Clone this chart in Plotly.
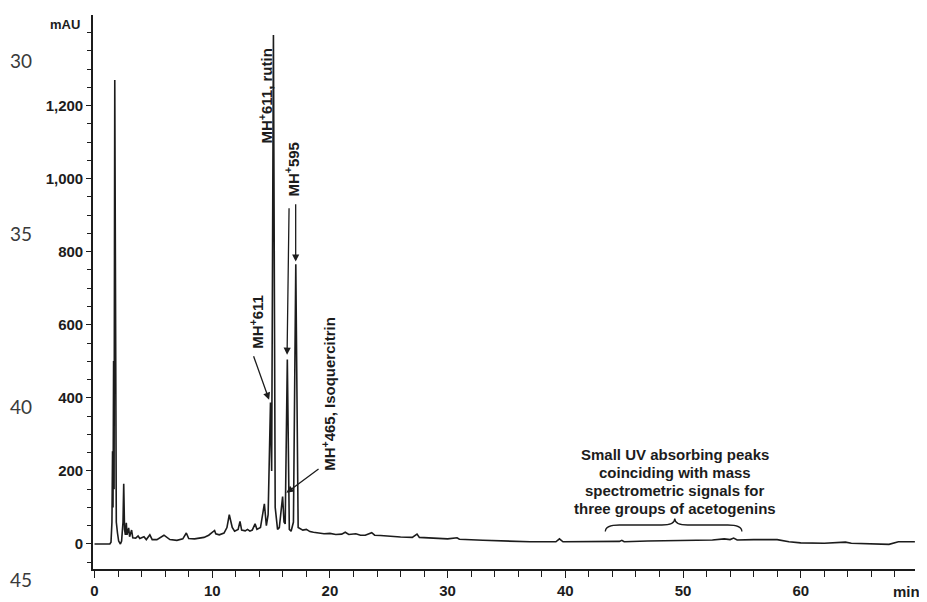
import plotly.graph_objects as go

# ---- data: chromatogram (retention time in min, absorbance in mAU) ----
time_min = [0.0, 1.30, 1.40, 1.48, 1.53, 1.57, 1.62, 1.66, 1.72, 1.78, 1.85, 1.95, 2.05, 2.20,
            2.30, 2.42, 2.48, 2.55, 2.62, 2.70, 2.76, 2.90, 2.98, 3.15, 3.25, 3.50, 3.70, 3.85,
            4.20, 4.40, 4.70, 4.90, 5.30, 5.90, 6.40, 7.00, 7.50, 7.80, 8.00, 8.50, 9.30, 9.70,
            10.0, 10.2, 10.3, 10.6, 11.0, 11.25, 11.45, 11.7, 11.9, 12.2, 12.36, 12.5, 12.8,
            13.0, 13.2, 13.4, 13.64, 13.8, 14.1, 14.43, 14.6, 14.75, 14.95, 15.05, 15.2, 15.35,
            15.55, 15.7, 15.98, 16.1, 16.2, 16.38, 16.55, 16.7, 16.9, 17.1, 17.3, 17.5, 17.7,
            18.0, 18.3, 18.6, 19.0, 19.5, 20.0, 20.5, 21.0, 21.3, 21.6, 22.2, 22.6, 23.0, 23.55,
            23.8, 24.3, 25.0, 26.0, 27.0, 27.4, 27.6, 28.5, 30.0, 30.8, 31.0, 33.0, 35.0, 37.0,
            39.2, 39.5, 39.8, 42.0, 44.6, 44.8, 45.0, 47.0, 50.0, 52.5, 53.5, 54.0, 54.3, 54.6,
            56.0, 58.0, 59.0, 60.0, 62.0, 63.8, 64.3, 66.0, 67.5, 68.3, 69.7]
absorbance_mAU = [0, 0, 5, 60, 254, 100, 501, 150, 1270, 200, 60, 30, 8, 0,
                  8, 60, 165, 40, 25, 58, 25, 44, 20, 38, 17, 16, 22, 15,
                  20, 12, 25, 12, 12, 24, 12, 10, 14, 30, 15, 14, 18, 24,
                  32, 37, 28, 25, 30, 45, 80, 45, 35, 40, 62, 38, 36,
                  40, 35, 38, 55, 40, 45, 110, 50, 80, 387, 200, 1393, 100,
                  40, 45, 130, 60, 55, 505, 40, 35, 60, 766, 45, 42, 38,
                  40, 34, 32, 30, 28, 29, 26, 27, 32, 26, 28, 24, 24, 31,
                  24, 23, 21, 19, 18, 27, 18, 16, 14, 17, 13, 10, 7, 6,
                  6, 14, 6, 6, 7, 10, 6, 8, 9, 11, 14, 12, 16, 11,
                  12, 12, 6, 3, 2, 5, 2, 0, -1, 6, 6]

y_tick_values = [0, 200, 400, 600, 800, 1000, 1200]
x_tick_values = [0, 10, 20, 30, 40, 50, 60]

peak_labels = ["MH<sup>+</sup>611", "MH<sup>+</sup>611, rutin", "MH<sup>+</sup>595",
               "MH<sup>+</sup>465, Isoquercitrin"]
note_lines = ["Small UV absorbing peaks", "coinciding with mass",
              "spectrometric signals for", "three groups of acetogenins"]
margin_numbers = ["30", "35", "40", "45"]

# ---- layout geometry (page body has an 8px margin, so the figure is offset) ----
OFF = 8
W, H = 927 - OFF, 602 - OFF
L, R, T, B = 93 - OFF, 12, 15 - OFF, 33
X_RANGE = [-0.13, 69.71]
Y_RANGE = [-68.5, 1448]
FONT = "Liberation Sans, Arial, sans-serif"
INK = "#1c1c1c"


def paper(xpx, ypx):
    """reference-window pixel -> paper coordinates"""
    xf, yf = xpx - OFF, ypx - OFF
    return (xf - L) / (W - L - R), (H - B - yf) / (H - T - B)


fig = go.Figure()
fig.add_trace(go.Scatter(x=time_min, y=absorbance_mAU, mode="lines",
                         line=dict(color=INK, width=1.6), hoverinfo="skip",
                         showlegend=False))

ann = []
bold15 = dict(family=FONT, size=15, color=INK, weight="bold")

# rotated peak labels
ann.append(dict(x=13.8, y=608, text=peak_labels[0], textangle=-90, showarrow=False, font=bold15))
ann.append(dict(x=14.49, y=1225, text=peak_labels[1], textangle=-90, showarrow=False, font=bold15))
ann.append(dict(x=16.78, y=1025, text=peak_labels[2], textangle=-90, showarrow=False, font=bold15))
ann.append(dict(x=19.92, y=411, text=peak_labels[3], textangle=-90, showarrow=False, font=bold15))

# arrows (tail -> tip)
arrows = [((13.47, 518), (14.83, 395)),
          ((16.53, 923), (16.36, 518)),
          ((17.09, 934), (17.09, 773)),
          ((19.16, 208), (16.30, 140))]
for (tx, ty), (hx, hy) in arrows:
    ann.append(dict(x=hx, y=hy, ax=tx, ay=ty, axref="x", ayref="y", xref="x", yref="y",
                    text="", showarrow=True, arrowhead=2, arrowsize=1.1, arrowwidth=1.3,
                    arrowcolor=INK, standoff=0, startstandoff=0))

# note text lines
for i, line in enumerate(note_lines):
    ann.append(dict(x=49.3, y=243.8 - i * 49.3, text=line, showarrow=False, font=bold15))

# axis titles (paper coordinates)
px, py = paper(65, 24)
ann.append(dict(x=px, y=py, xref="paper", yref="paper", text="mAU", showarrow=False,
                font=dict(family=FONT, size=13, color=INK, weight="bold")))
px, py = paper(906, 591)
ann.append(dict(x=px, y=py, xref="paper", yref="paper", text="min", showarrow=False,
                font=bold15))

# margin line numbers
for num, ypx in zip(margin_numbers, [60, 233, 406, 579]):
    px, py = paper(21, ypx)
    ann.append(dict(x=px, y=py, xref="paper", yref="paper", text=num, showarrow=False,
                    font=dict(family="Lato, Noto Sans, sans-serif", size=19, color="#3a3a3a")))

for a in ann:
    a.setdefault("xref", "x")
    a.setdefault("yref", "y")
    a.setdefault("xanchor", "center")
    a.setdefault("yanchor", "middle")

brace = ("M 43.4,34 Q 43.4,52 44.6,52 L 48.2,52 Q 49.3,52 49.3,70 "
         "Q 49.3,52 50.4,52 L 53.8,52 Q 55.0,52 55.0,34")

fig.update_layout(
    width=W, height=H, margin=dict(l=L, r=R, t=T, b=B, autoexpand=False),
    paper_bgcolor="white", plot_bgcolor="white",
    annotations=ann,
    shapes=[dict(type="path", path=brace, xref="x", yref="y",
                 line=dict(color=INK, width=1.3))],
    xaxis=dict(range=X_RANGE, showgrid=False, zeroline=False, showline=True, automargin=False,
               linecolor=INK, linewidth=1.6, ticks="outside", ticklen=7, tickwidth=1.4,
               tickcolor=INK, tickvals=x_tick_values,
               tickfont=dict(family=FONT, size=15, color=INK, weight="bold"),
               minor=dict(dtick=2, tick0=0, ticks="outside", ticklen=6, tickwidth=1.4,
                          tickcolor=INK, showgrid=False)),
    yaxis=dict(range=Y_RANGE, showgrid=False, zeroline=False, showline=True, automargin=False,
               linecolor=INK, linewidth=1.6, ticks="outside", ticklen=5, tickwidth=1.4,
               tickcolor=INK, tickvals=y_tick_values, tickformat=",",
               tickfont=dict(family=FONT, size=15, color=INK, weight="bold"),
               minor=dict(dtick=50, tick0=0, ticks="outside", ticklen=4, tickwidth=1.4,
                          tickcolor=INK, showgrid=False)),
)

fig.write_html("out.html")
